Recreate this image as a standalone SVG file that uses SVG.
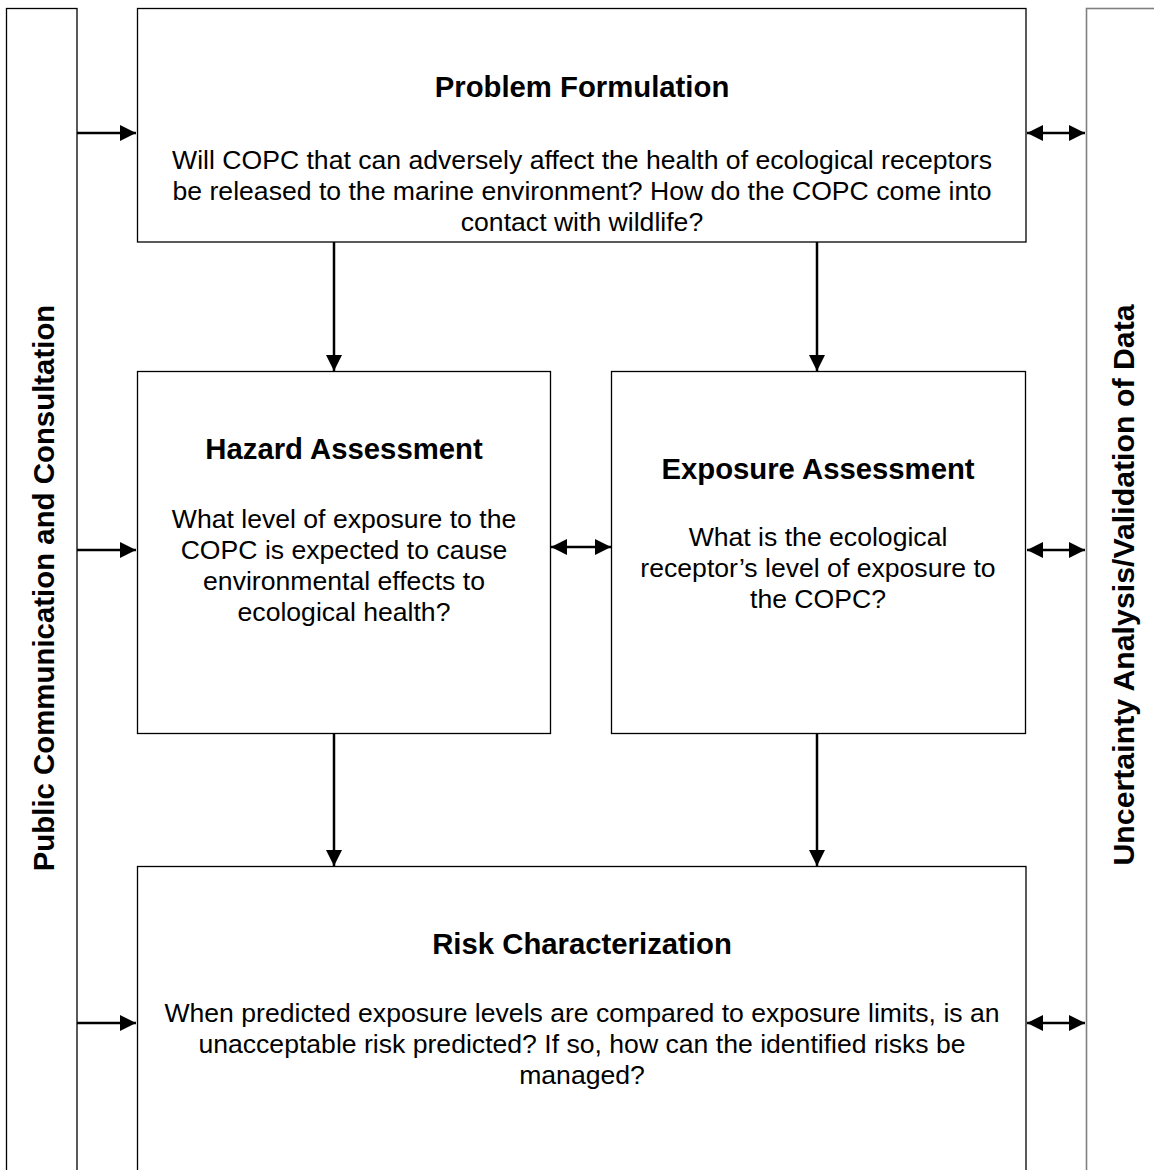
<svg xmlns="http://www.w3.org/2000/svg" width="1154" height="1170" viewBox="0 0 1154 1170">
<defs>
<marker id="ah" viewBox="0 0 10 10" refX="10" refY="5" markerWidth="6.6" markerHeight="6.4" orient="auto-start-reverse" markerUnits="strokeWidth">
<path d="M0,0 L10,5 L0,10 z" fill="#000"/>
</marker>
<style>
.box{fill:#fff;stroke:#000;stroke-width:1.3}
.bar{fill:#fff;stroke:#000;stroke-width:1.3}
.bar2{fill:#fff;stroke:#808080;stroke-width:1.6}
.t{font-family:"Liberation Sans",Arial,sans-serif;font-size:29.3px;font-weight:bold;text-anchor:middle;fill:#000}
.b{font-family:"Liberation Sans",Arial,sans-serif;font-size:26.6px;text-anchor:middle;fill:#000}
.v{font-family:"Liberation Sans",Arial,sans-serif;font-size:29.4px;font-weight:bold;text-anchor:middle;fill:#000}
.c{stroke:#000;stroke-width:2.5;fill:none}
</style>
</defs>
<rect width="1154" height="1170" fill="#fff"/>
<g id="left-bar">
<rect class="bar" x="6.5" y="8.5" width="70.5" height="1180"/>
<text class="v" transform="translate(54,588) rotate(-90)">Public Communication and Consultation</text>
</g>
<g id="right-bar">
<rect class="bar2" x="1086.5" y="8.5" width="90" height="1180"/>
<text class="v" style="font-size:30.3px" transform="translate(1134,585) rotate(-90)">Uncertainty Analysis/Validation of Data</text>
</g>
<g id="problem-formulation">
<rect class="box" x="137.5" y="8.5" width="888.5" height="233.5"/>
<text class="t" x="582" y="97">Problem Formulation</text>
<text class="b" x="582" y="169">Will COPC that can adversely affect the health of ecological receptors</text>
<text class="b" x="582" y="200">be released to the marine environment? How do the COPC come into</text>
<text class="b" x="582" y="231">contact with wildlife?</text>
</g>
<g id="hazard-assessment">
<rect class="box" x="137.5" y="371.5" width="413" height="362"/>
<text class="t" x="344" y="459">Hazard Assessment</text>
<text class="b" x="344" y="528">What level of exposure to the</text>
<text class="b" x="344" y="559">COPC is expected to cause</text>
<text class="b" x="344" y="590">environmental effects to</text>
<text class="b" x="344" y="621">ecological health?</text>
</g>
<g id="exposure-assessment">
<rect class="box" x="611.5" y="371.5" width="414" height="362"/>
<text class="t" x="818" y="479">Exposure Assessment</text>
<text class="b" x="818" y="546">What is the ecological</text>
<text class="b" x="818" y="577">receptor’s level of exposure to</text>
<text class="b" x="818" y="608">the COPC?</text>
</g>
<g id="risk-characterization">
<rect class="box" x="137.5" y="866.5" width="888.5" height="330"/>
<text class="t" x="582" y="954">Risk Characterization</text>
<text class="b" x="582" y="1022">When predicted exposure levels are compared to exposure limits, is an</text>
<text class="b" x="582" y="1053">unacceptable risk predicted? If so, how can the identified risks be</text>
<text class="b" x="582" y="1084">managed?</text>
</g>
<g id="connectors">
<line class="c" x1="77" y1="133" x2="136" y2="133" marker-end="url(#ah)"/>
<line class="c" x1="77" y1="550" x2="136" y2="550" marker-end="url(#ah)"/>
<line class="c" x1="77" y1="1023" x2="136" y2="1023" marker-end="url(#ah)"/>
<line class="c" x1="1027" y1="133" x2="1085" y2="133" marker-start="url(#ah)" marker-end="url(#ah)"/>
<line class="c" x1="1027" y1="550" x2="1085" y2="550" marker-start="url(#ah)" marker-end="url(#ah)"/>
<line class="c" x1="1027" y1="1023" x2="1085" y2="1023" marker-start="url(#ah)" marker-end="url(#ah)"/>
<line class="c" x1="551" y1="547" x2="611" y2="547" marker-start="url(#ah)" marker-end="url(#ah)"/>
<line class="c" x1="334" y1="242" x2="334" y2="371" marker-end="url(#ah)"/>
<line class="c" x1="817" y1="242" x2="817" y2="371" marker-end="url(#ah)"/>
<line class="c" x1="334" y1="734" x2="334" y2="866" marker-end="url(#ah)"/>
<line class="c" x1="817" y1="734" x2="817" y2="866" marker-end="url(#ah)"/>
</g>
</svg>
